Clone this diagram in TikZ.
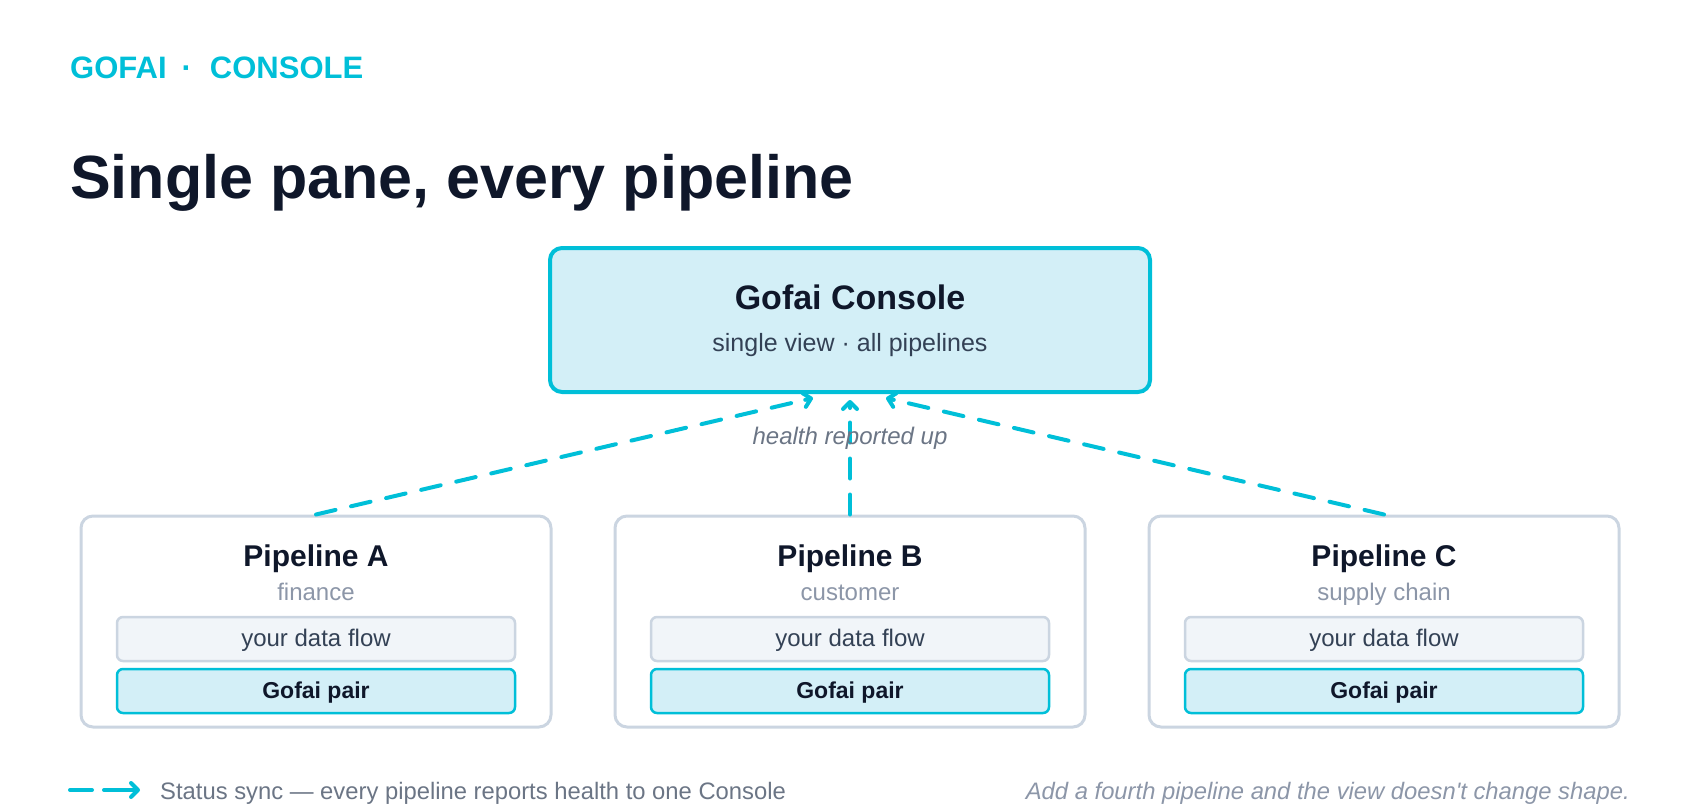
\documentclass[tikz,border=0pt]{standalone}
\usepackage{fontspec}
\setmainfont{Liberation Sans}
\usepackage{xcolor}
\usepackage{tikz}
\usetikzlibrary{arrows.meta,positioning,calc}
\definecolor{gcyan}{HTML}{00BFD8}
\definecolor{gfill}{HTML}{D3EFF7}
\definecolor{gline}{HTML}{CBD5E1}
\definecolor{gpale}{HTML}{F1F5F9}
\definecolor{gdark}{HTML}{0F172A}
\definecolor{gtext}{HTML}{334155}
\definecolor{gmuted}{HTML}{8C96A8}
\definecolor{gslate}{HTML}{6B7585}
\newcommand{\gfs}[1]{\fontsize{#1}{#1}\selectfont}

\begin{document}
\begin{tikzpicture}[
        x=1pt, y=-1pt,
        txt/.style={inner sep=0pt},
        console/.style={draw=gcyan, line width=4pt, rounded corners=12pt, fill=gfill, minimum width=600pt, minimum height=144pt},
        pipe/.style={draw=gline, line width=3pt, rounded corners=12pt, fill=white, minimum width=470pt, minimum height=211pt},
        flow/.style={draw=gline, line width=2.5pt, rounded corners=6pt, fill=gpale, minimum width=398pt, minimum height=44pt, text height=18pt, text depth=4pt, font=\gfs{24}, text=gtext},
        pair/.style={flow, draw=gcyan, fill=gfill, font=\gfs{23}\bfseries, text=gdark},
        sync/.style={draw=gcyan, line width=4pt, dash pattern=on 20pt off 16pt, line cap=round},
        synchead/.style={draw=gcyan, line width=4pt, solid, line cap=round, -{Straight Barb[length=7pt, width=14pt, line width=4pt, round]}}
    ]
        \useasboundingbox (0,0) rectangle (1700,811);

        % Header
        \node[txt, anchor=base west, text=gcyan, font=\gfs{31}\bfseries] (brand) at (70,78) {GOFAI\hspace{15pt}·\hspace{18pt}CONSOLE};
        \node[txt, anchor=base west, text=gdark, font=\gfs{61}\bfseries] (headline) at (70,198) {Single pane, every pipeline};

        % Console node
        \node[console] (console) at (850,320) {};
        \node[txt, anchor=base, font=\gfs{34}\bfseries, text=gdark] (consoletitle) at (850,309) {Gofai Console};
        \node[txt, anchor=base, font=\gfs{25}, text=gtext] (consolesub) at (850,351) {single view · all pipelines};

        % Pipeline A
        \node[pipe] (A) at (316,621.5) {};
        \node[txt, anchor=base, font=\gfs{30}\bfseries, text=gdark] (Atitle) at (316,566) {Pipeline A};
        \node[txt, anchor=base, font=\gfs{24}, text=gmuted] (Asub) at (316,600) {finance};
        \node[flow] (Aflow) at (316,639) {your data flow};
        \node[pair] (Apair) at (316,691) {Gofai pair};

        % Pipeline B
        \node[pipe] (B) at (850,621.5) {};
        \node[txt, anchor=base, font=\gfs{30}\bfseries, text=gdark] (Btitle) at (850,566) {Pipeline B};
        \node[txt, anchor=base, font=\gfs{24}, text=gmuted] (Bsub) at (850,600) {customer};
        \node[flow] (Bflow) at (850,639) {your data flow};
        \node[pair] (Bpair) at (850,691) {Gofai pair};

        % Pipeline C
        \node[pipe] (C) at (1384,621.5) {};
        \node[txt, anchor=base, font=\gfs{30}\bfseries, text=gdark] (Ctitle) at (1384,566) {Pipeline C};
        \node[txt, anchor=base, font=\gfs{24}, text=gmuted] (Csub) at (1384,600) {supply chain};
        \node[flow] (Cflow) at (1384,639) {your data flow};
        \node[pair] (Cpair) at (1384,691) {Gofai pair};

        % Connect nodes
        \coordinate (Aend) at ([xshift=-37pt, yshift=-4pt]console.south);
        \coordinate (Bend) at ([yshift=-6pt]console.south);
        \coordinate (Cend) at ([xshift=36pt, yshift=-4pt]console.south);
        \draw[sync] (A.north) -- ($(Aend)!4pt!(A.north)$);
        \draw[sync] (B.north) -- ($(Bend)!4pt!(B.north)$);
        \draw[sync] (C.north) -- ($(Cend)!4pt!(C.north)$);
        \draw[synchead] ($(Aend)!8pt!(A.north)$) -- (Aend);
        \draw[synchead] ($(Bend)!8pt!(B.north)$) -- (Bend);
        \draw[synchead] ($(Cend)!8pt!(C.north)$) -- (Cend);
        \node[txt, anchor=base, font=\gfs{24}\itshape, text=gslate] (health) at (850,444) {health reported up};

        % Legend
        \coordinate (legfrom) at (70,790);
        \coordinate (legto) at (140,790);
        \draw[sync, dash pattern=on 22pt off 12pt on 60pt off 10pt] (legfrom) -- ($(legto)!4pt!(legfrom)$);
        \draw[synchead] ($(legto)!8pt!(legfrom)$) -- (legto);
        \node[txt, anchor=base west, font=\gfs{23.8}, text=gslate] (legtext) at (160,799) {Status sync — every pipeline reports health to one Console};
        \node[txt, anchor=base east, font=\gfs{23.8}\itshape, text=gmuted] (note) at (1630,799) {Add a fourth pipeline and the view doesn\textquotesingle t change shape.};
    \end{tikzpicture}
\end{document}
